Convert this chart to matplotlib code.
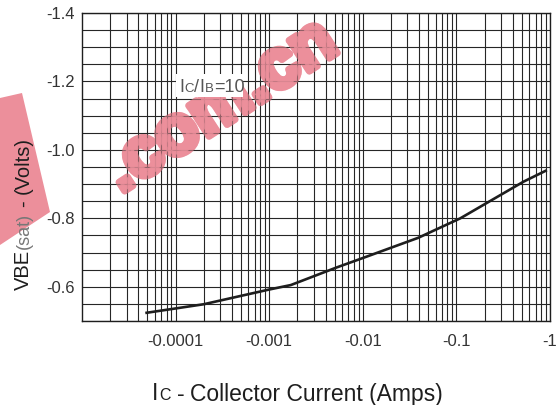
import matplotlib
matplotlib.use('Agg')
import matplotlib.pyplot as plt
import matplotlib.patheffects as pe
from matplotlib.ticker import FixedLocator, NullFormatter, MultipleLocator
from matplotlib.transforms import IdentityTransform
from matplotlib.patches import Rectangle, Polygon

plt.rcParams['font.family'] = ['Liberation Sans', 'DejaVu Sans']

# Ic (A, magnitude) vs VBE(sat) (V)
ic = [4.9e-5, 2.0e-4, 1.0e-3, 1.7e-3, 5.2e-3, 1.0e-2, 3.9e-2, 0.11, 0.52, 0.9]
vbe = [-0.524, -0.549, -0.592, -0.605, -0.656, -0.684, -0.743, -0.800, -0.907, -0.939]

x_ticks = [1e-4, 1e-3, 1e-2, 1e-1, 1]
x_labels = ['-0.0001', '-0.001', '-0.01', '-0.1', '-1']
y_ticks = [-1.4, -1.2, -1.0, -0.8, -0.6]
y_labels = ['-1.4', '-1.2', '-1.0', '-0.8', '-0.6']

W, H = 558, 405
dark = '#1e1e1e'
pink = '#ec8f9b'
fig = plt.figure(figsize=(W / 100, H / 100), dpi=100)
ax = fig.add_axes([82 / W, 1 - 321 / H, (550 - 82) / W, (321 - 13) / H])

ax.set_xscale('log')
ax.set_xlim(1e-5, 1)
ax.set_ylim(-0.5, -1.4)
ax.plot(ic, vbe, color=dark, lw=1.9, zorder=3)

minor = [k * 10.0 ** n for n in range(-5, 0) for k in range(2, 10)]
ax.xaxis.set_major_locator(FixedLocator(x_ticks))
ax.xaxis.set_minor_locator(FixedLocator(minor))
ax.xaxis.set_minor_formatter(NullFormatter())
ax.set_xticklabels(x_labels)
ax.set_yticks(y_ticks)
ax.set_yticklabels(y_labels)
ax.yaxis.set_minor_locator(MultipleLocator(0.05))
ax.grid(which='both', color='#262626', lw=0.8)
ax.tick_params(which='both', length=0, labelsize=12, labelcolor='#333333')
ax.tick_params(axis='x', pad=9)
ax.tick_params(axis='y', pad=5)
for s in ax.spines.values():
    s.set_color(dark)
    s.set_linewidth(1.0)

ident = IdentityTransform()
renderer = fig.canvas.get_renderer()


def text_run(pieces, x, y, vertical=False, z=4):
    # pieces: (text, size, color, gap before in px); x, y in pixels from bottom-left
    pos = 0.0
    made = []
    for s, size, color, gap in pieces:
        pos += gap
        if vertical:
            t = fig.text(x, y + pos, s, transform=ident, fontsize=size, color=color,
                         ha='left', va='baseline', rotation=90, rotation_mode='anchor', zorder=z)
        else:
            t = fig.text(x + pos, y, s, transform=ident, fontsize=size, color=color,
                         ha='left', va='baseline', zorder=z)
        bb = t.get_window_extent(renderer)
        pos += bb.height if vertical else bb.width
        made.append(t)
    return made


# watermark: solid copy under the grid, see-through copy over it
fig.patches.append(Polygon([(0, H - 98), (22, H - 93), (50, H - 212), (0, H - 245)],
                           closed=True, transform=ident, facecolor=pink,
                           edgecolor='none', zorder=1))
for z, a in [(1, 1.0), (2.6, 0.55)]:
    ax.text(221, H - 107, '.com.cn', transform=ident, fontsize=50, fontweight='bold',
            color=pink, alpha=a, rotation=33, rotation_mode='anchor', ha='center',
            va='center', zorder=z, clip_on=False,
            path_effects=[pe.withStroke(linewidth=5, foreground=pink, alpha=a)])

# x label
text_run([('I', 16.5, dark, 0), ('C', 11.5, dark, 1),
          ('-', 16.5, dark, 6), ('Collector Current (Amps)', 16.5, dark, 6)],
         152, H - 400.5)

# y label
text_run([('VBE', 14.5, dark, 0), ('(sat)', 13, '#777777', 1),
          ('-', 14.5, dark, 6), ('(Volts)', 14.5, dark, 6)],
         29, H - 290, vertical=True)

# annotation with white box behind it
fig.patches.append(Rectangle((176, H - 97), 67, 23, transform=ident,
                             facecolor='white', edgecolor='none', zorder=2))
grey = '#555555'
text_run([('I', 13, grey, 0), ('C', 9.5, grey, 0.5), ('/', 13, grey, 0.5),
          ('I', 13, grey, 0), ('B', 9.5, grey, 0.5), ('=10', 13, grey, 0.5)],
         179, H - 92)

fig.savefig('out.png', dpi=100)
